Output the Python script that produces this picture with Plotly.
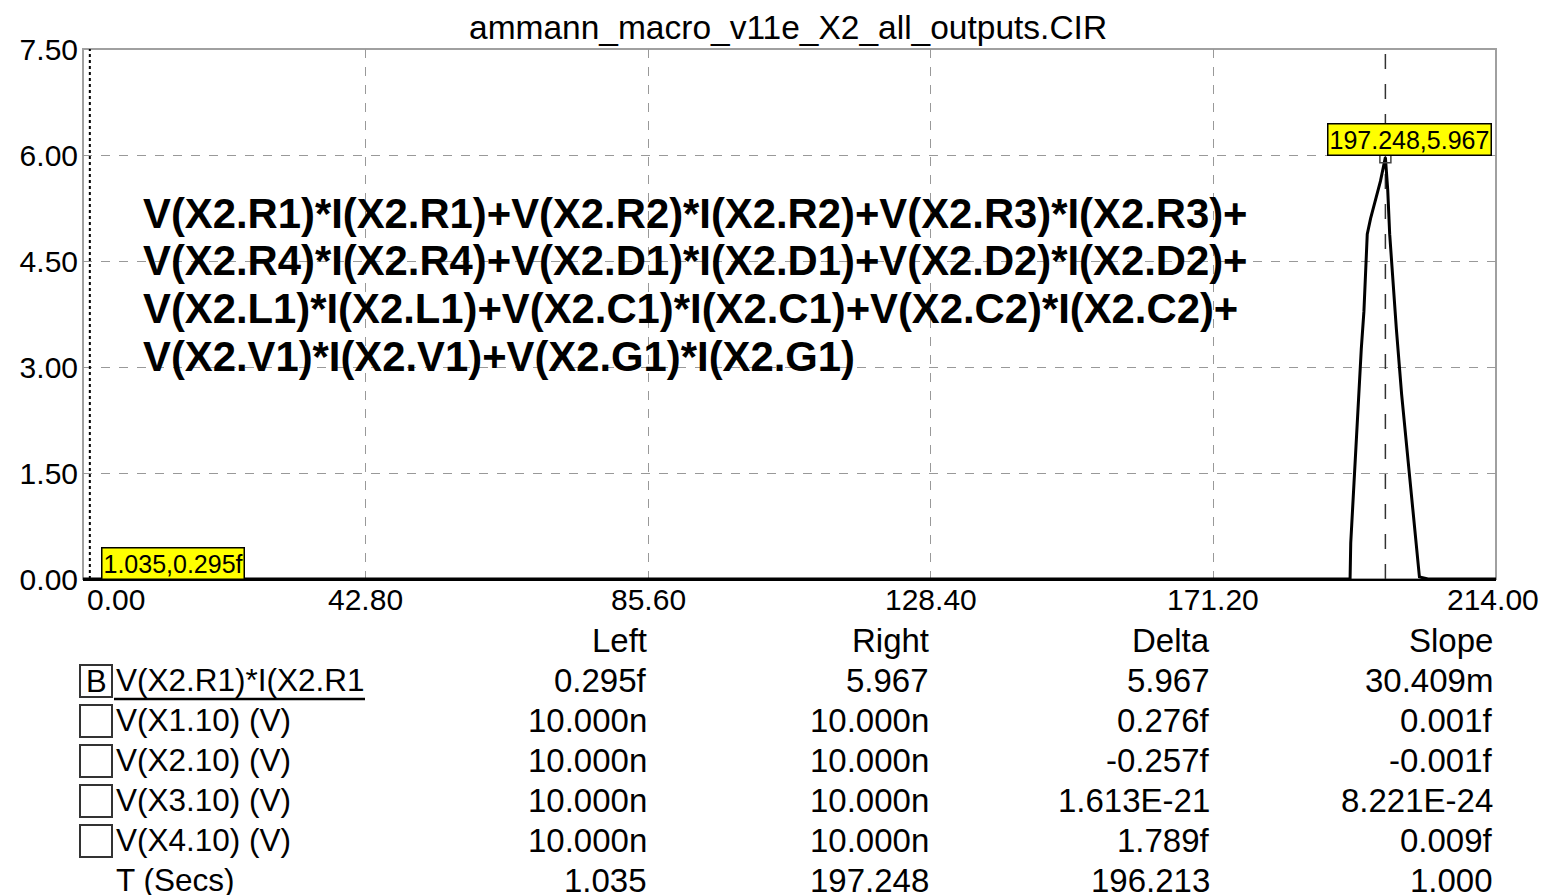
import plotly.graph_objects as go

# waveform (time in secs, power in W)
t = [0.0, 1.035, 191.9, 192.0, 192.3, 192.6, 193.0, 193.3, 193.6, 194.0, 194.3, 194.5,
     195.0, 196.5, 197.248, 197.6, 197.9, 198.3, 198.9, 199.7, 200.5, 201.2, 202.0,
     202.4, 203.7, 214.0]
p = [0.0, 0.295e-15, 0.0, 0.51, 1.04, 1.61, 2.14, 2.69, 3.26, 3.79, 4.33, 4.88,
     5.10, 5.63, 5.967, 5.51, 4.88, 4.31, 3.55, 2.62, 1.82, 1.16, 0.37,
     0.03, 0.0, 0.0]

title = "ammann_macro_v11e_X2_all_outputs.CIR"
x_ticks = [0.0, 42.8, 85.6, 128.4, 171.2, 214.0]
y_ticks = [0.0, 1.5, 3.0, 4.5, 6.0, 7.5]

left_cursor = [1.035, 0.295e-15]
right_cursor = [197.248, 5.967]
left_label = "1.035,0.295f"
right_label = "197.248,5.967"

formula = [
    "V(X2.R1)*I(X2.R1)+V(X2.R2)*I(X2.R2)+V(X2.R3)*I(X2.R3)+",
    "V(X2.R4)*I(X2.R4)+V(X2.D1)*I(X2.D1)+V(X2.D2)*I(X2.D2)+",
    "V(X2.L1)*I(X2.L1)+V(X2.C1)*I(X2.C1)+V(X2.C2)*I(X2.C2)+",
    "V(X2.V1)*I(X2.V1)+V(X2.G1)*I(X2.G1)",
]

# cursor readout table
col_headers = ["Left", "Right", "Delta", "Slope"]
row_names = ["V(X2.R1)*I(X2.R1", "V(X1.10) (V)", "V(X2.10) (V)", "V(X3.10) (V)",
             "V(X4.10) (V)", "T (Secs)"]
left_vals = ["0.295f", "10.000n", "10.000n", "10.000n", "10.000n", "1.035"]
right_vals = ["5.967", "10.000n", "10.000n", "10.000n", "10.000n", "197.248"]
delta_vals = ["5.967", "0.276f", "-0.257f", "1.613E-21", "1.789f", "196.213"]
slope_vals = ["30.409m", "0.001f", "-0.001f", "8.221E-24", "0.009f", "1.000"]

FONT = "Liberation Sans, Arial, sans-serif"
W, H = 1547, 895
OFF = 8             # body margin of the html page
X0, X1 = 83, 1496   # plot area in page pixels
Y0, Y1 = 579, 49


def px(x):
    return (x - X0) / (X1 - X0)


def py(y):
    return (Y0 - y) / (Y0 - Y1)


fig = go.Figure()

# cursors
fig.add_trace(go.Scatter(x=[left_cursor[0]] * 2, y=[0, 7.5], mode="lines",
                         line=dict(color="black", width=2, dash="dot"),
                         hoverinfo="skip"))
fig.add_trace(go.Scatter(x=[right_cursor[0]] * 2, y=[0, 7.5], mode="lines",
                         line=dict(color="#333333", width=1.5, dash="longdash"),
                         hoverinfo="skip"))
fig.add_trace(go.Scatter(x=t, y=p, mode="lines", line=dict(color="black", width=3)))
fig.add_trace(go.Scatter(x=[right_cursor[0]], y=[right_cursor[1]], mode="markers",
                         marker=dict(symbol="square-open", size=11,
                                     color="#444444", line=dict(width=1.5))))

ann = []
# x tick labels (first one hangs right of the axis)
for i, v in enumerate(x_ticks):
    ann.append(dict(x=v, xref="x", y=py(599), yref="paper",
                    text="%.2f" % v, showarrow=False,
                    xanchor="left" if i == 0 else "center", yanchor="middle",
                    xshift=2 if i == 0 else (-3 if i == len(x_ticks) - 1 else 0),
                    font=dict(family=FONT, size=30, color="black")))

ann.append(dict(x=px(788), y=py(28), xref="paper", yref="paper", text=title,
                showarrow=False, xanchor="center", yanchor="middle",
                font=dict(family=FONT, size=33.5, color="black")))

for i, line in enumerate(formula):
    ann.append(dict(x=px(141), y=py(213 + 47.7 * i), xref="paper", yref="paper",
                    text="<b>%s</b>" % line, showarrow=False,
                    xanchor="left", yanchor="middle",
                    font=dict(family=FONT, size=41.8, color="black")))

# yellow cursor readouts
ann.append(dict(x=px(1409), y=py(139), xref="paper", yref="paper", text=right_label,
                showarrow=False, xanchor="center", yanchor="middle",
                bgcolor="#ffff00", bordercolor="black", borderwidth=1.5, borderpad=1,
                font=dict(family=FONT, size=25, color="black")))
ann.append(dict(x=px(173), y=py(563), xref="paper", yref="paper", text=left_label,
                showarrow=False, xanchor="center", yanchor="middle",
                bgcolor="#ffff00", bordercolor="black", borderwidth=1.5, borderpad=1,
                font=dict(family=FONT, size=25, color="black")))

# readout table
col_right = [649, 931, 1212, 1495]
cols = [left_vals, right_vals, delta_vals, slope_vals]
for c, hdr in enumerate(col_headers):
    ann.append(dict(x=px(col_right[c]), y=py(640), xref="paper", yref="paper",
                    text=hdr, showarrow=False, xanchor="right", yanchor="middle",
                    font=dict(family=FONT, size=33, color="black")))
    for r, v in enumerate(cols[c]):
        ann.append(dict(x=px(col_right[c]), y=py(680 + 40 * r), xref="paper",
                        yref="paper", text=v, showarrow=False, xanchor="right",
                        yanchor="middle",
                        font=dict(family=FONT, size=33, color="black")))
for r, name in enumerate(row_names):
    ann.append(dict(x=px(114), y=py(680 + 40 * r), xref="paper", yref="paper",
                    text=name, showarrow=False, xanchor="left", yanchor="middle",
                    font=dict(family=FONT, size=31.5, color="black")))
ann.append(dict(x=px(96), y=py(681), xref="paper", yref="paper", text="B",
                showarrow=False, xanchor="center", yanchor="middle",
                font=dict(family=FONT, size=31, color="black")))

shapes = [dict(type="rect", xref="paper", yref="paper", x0=0, x1=1, y0=0, y1=1,
               line=dict(color="#a0a0a0", width=2), layer="below")]
for r in range(5):
    shapes.append(dict(type="rect", xref="paper", yref="paper",
                       x0=px(80), x1=px(112), y0=py(665 + 40 * r), y1=py(697 + 40 * r),
                       line=dict(color="#333333", width=2)))
shapes.append(dict(type="line", xref="paper", yref="paper",
                   x0=px(114), x1=px(365), y0=py(699), y1=py(699),
                   line=dict(color="black", width=2.5)))

fig.update_layout(
    width=W - OFF, height=H - OFF, autosize=False,
    margin=dict(l=X0 - OFF, r=W - X1, t=Y1 - OFF, b=H - Y0),
    paper_bgcolor="white", plot_bgcolor="white",
    showlegend=False,
    annotations=ann, shapes=shapes,
    xaxis=dict(range=[0, 214], tickvals=x_ticks, showticklabels=False,
               showgrid=True, gridcolor="#999999", griddash="dash", gridwidth=1,
               zeroline=False, showline=True, linecolor="black", linewidth=2,
               ticks=""),
    yaxis=dict(range=[0, 7.5], tickvals=y_ticks, ticktext=["%.2f" % v for v in y_ticks],
               showgrid=True, gridcolor="#999999", griddash="dash", gridwidth=1,
               zeroline=False, showline=False, ticks="", ticklabelstandoff=4,
               tickfont=dict(family=FONT, size=30, color="black")),
)

fig.write_html("out.html")
